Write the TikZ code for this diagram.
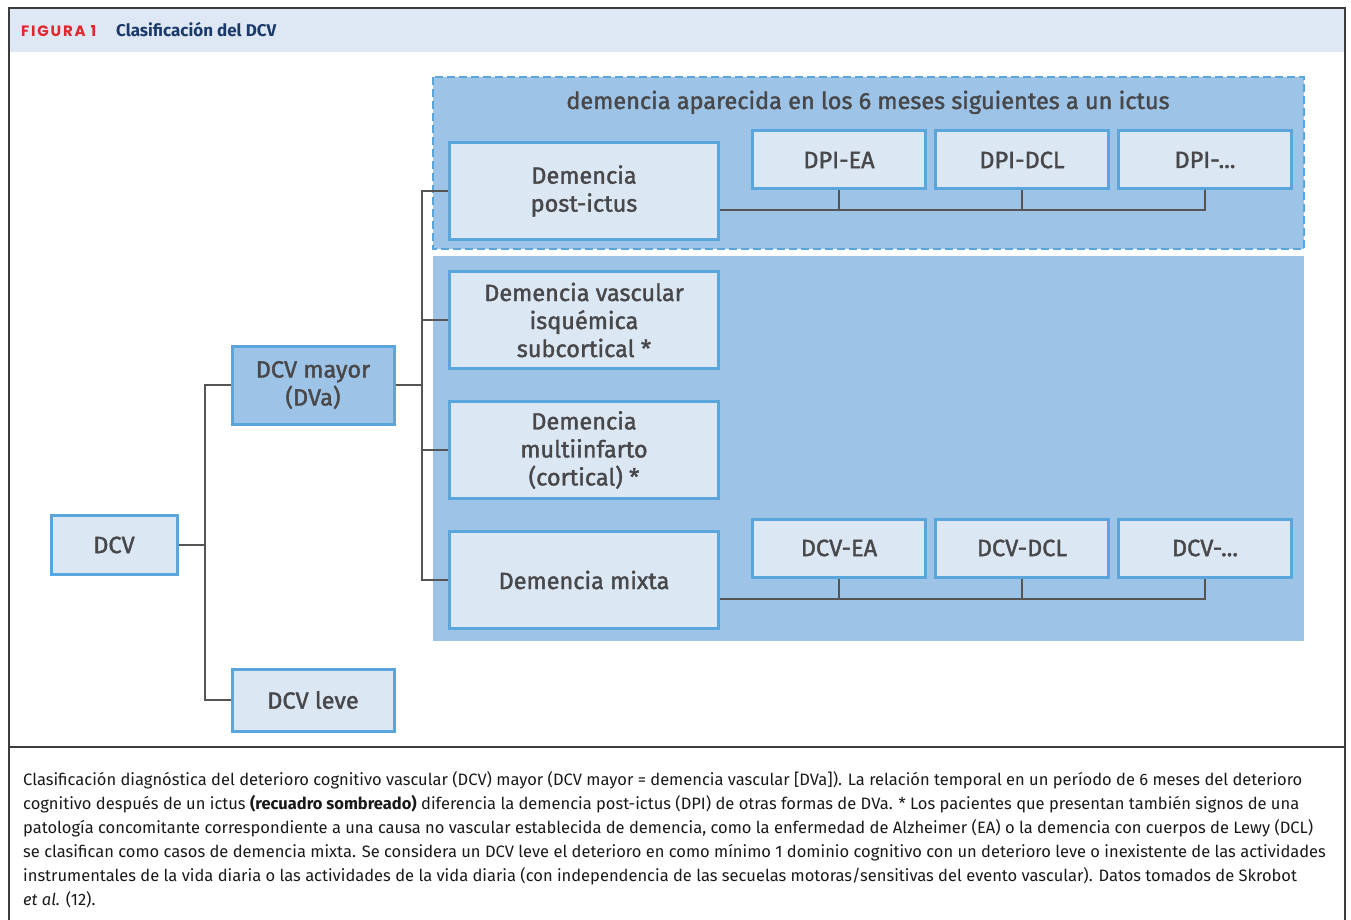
\documentclass[tikz,border=0pt]{standalone}
\usepackage{fontspec}
\setmainfont{Fira Sans}
\newfontfamily\figfont[LetterSpace=12]{Poppins}
\newfontfamily\boxfont[FakeBold=1.6]{Fira Sans}
\usetikzlibrary{positioning}

\definecolor{boxfill}{HTML}{DCE7F4}
\definecolor{boxline}{HTML}{5AA6DC}
\definecolor{zone}{HTML}{9DC3E6}
\definecolor{wire}{HTML}{555555}
\definecolor{ink}{HTML}{48484A}
\definecolor{band}{HTML}{DDE8F4}
\definecolor{figred}{HTML}{E3262D}
\definecolor{navy}{HTML}{1B3A6B}
\definecolor{frame}{HTML}{3C3C3C}

\begin{document}
\begin{tikzpicture}[x=1pt,y=-1pt,
	box/.style={draw=boxline,fill=boxfill,line width=3pt,align=center,text=ink,
		font=\boxfont\fontsize{23.5}{28}\selectfont,inner sep=0},
	bigbox/.style={box,minimum width=269pt,minimum height=97pt},
	smallbox/.style={box,minimum width=173pt,minimum height=58pt},
	wire/.style={draw=wire,line width=2pt},
	captext/.style={anchor=base west,inner sep=0,text=black!90,font=\fontsize{16.5}{24}\selectfont}]
	\useasboundingbox (0,0) rectangle (1351,920);
	% frame and heading
	\fill[band] (9,8) rectangle (1345,52);
	\draw[frame,line width=1.5pt] (9,925) -- (9,8) -- (1345,8) -- (1345,925);
	\draw[frame,line width=1.5pt] (9,747) -- (1345,747);
	\node[anchor=base west,inner sep=0,text=figred,font=\figfont\bfseries\fontsize{15}{15}\selectfont] (fig) at (21,37) {FIGURA 1};
	\node[anchor=base west,inner sep=0,text=navy,font=\bfseries\fontsize{17}{17}\selectfont] (head) at (116,37) {Clasificación del DCV};
	% shaded zones
	\fill[zone] (433,256) rectangle (1304,641);
	\draw[boxline,fill=zone,line width=2pt,dash pattern=on 8pt off 4pt] (433,77) rectangle (1304,249);
	\node[anchor=base,inner sep=0,text=ink,font=\boxfont\fontsize{23.5}{28}\selectfont] (zt) at (868,109) {demencia aparecida en los 6 meses siguientes a un ictus};
	% boxes
	\node[box,minimum width=126pt,minimum height=59pt] (dcv) at (114,545) {DCV};
	\node[box,fill=zone,minimum width=162pt,minimum height=78pt] (may) at (313,385) {DCV mayor\\(DVa)};
	\node[box,minimum width=162pt,minimum height=62pt] (lev) at (313,700) {DCV leve};
	\node[bigbox] (pi) at (584,191) {Demencia\\post-ictus};
	\node[bigbox] (vis) at (584,320) {Demencia vascular\\isquémica\\subcortical *};
	\node[bigbox] (mi) at (584,450) {Demencia\\multiinfarto\\(cortical) *};
	\node[bigbox] (mx) at (584,580) {Demencia mixta};
	\node[smallbox] (p1) at (839,160) {DPI-EA};
	\node[smallbox] (p2) at (1022,160) {DPI-DCL};
	\node[smallbox] (p3) at (1205,160) {DPI-...};
	\node[smallbox] (m1) at (839,548) {DCV-EA};
	\node[smallbox] (m2) at (1022,548) {DCV-DCL};
	\node[smallbox] (m3) at (1205,548) {DCV-...};
	% connectors
	\coordinate (ja) at (205,545);
	\coordinate (jb) at (422,385);
	\coordinate (jp) at (pi.east |- 0,210);
	\coordinate (jm) at (mx.east |- 0,599);
	\draw[wire] (dcv.east) -- (ja);
	\draw[wire] (may.west) -| (ja) |- (lev.west);
	\draw[wire] (may.east) -- (jb);
	\draw[wire] (pi.west) -| (jb) |- (mx.west);
	\draw[wire] (vis.west) -- (vis.west -| jb);
	\draw[wire] (mi.west) -- (mi.west -| jb);
	\draw[wire] (jp) -| (p3.south);
	\draw[wire] (p1.south) -- (p1.south |- jp);
	\draw[wire] (p2.south) -- (p2.south |- jp);
	\draw[wire] (jm) -| (m3.south);
	\draw[wire] (m1.south) -- (m1.south |- jm);
	\draw[wire] (m2.south) -- (m2.south |- jm);
	% caption
	\node[captext] (c1) at (23,785) {Clasificación diagnóstica del deterioro cognitivo vascular (DCV) mayor (DCV mayor = demencia vascular [DVa]). La relación temporal en un período de 6 meses del deterioro};
	\node[captext] (c2) at (23,809) {cognitivo después de un ictus \textbf{(recuadro sombreado)} diferencia la demencia post-ictus (DPI) de otras formas de DVa. * Los pacientes que presentan también signos de una};
	\node[captext] (c3) at (23,833) {patología concomitante correspondiente a una causa no vascular establecida de demencia, como la enfermedad de Alzheimer (EA) o la demencia con cuerpos de Lewy (DCL)};
	\node[captext] (c4) at (23,857) {se clasifican como casos de demencia mixta. Se considera un DCV leve el deterioro en como mínimo 1 dominio cognitivo con un deterioro leve o inexistente de las actividades};
	\node[captext] (c5) at (23,881) {instrumentales de la vida diaria o las actividades de la vida diaria (con independencia de las secuelas motoras/sensitivas del evento vascular). Datos tomados de Skrobot};
	\node[captext] (c6) at (23,905) {\textit{et al.} (12).};
\end{tikzpicture}
\end{document}
